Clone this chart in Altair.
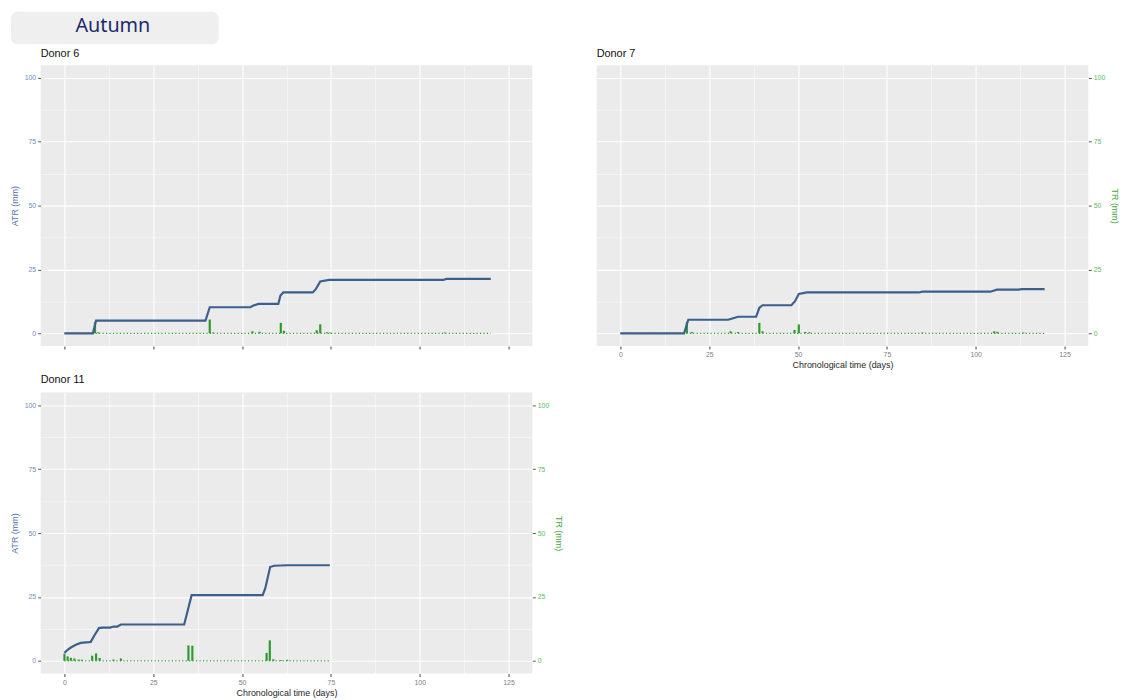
import altair as alt
import pandas as pd

# ---------------- data ----------------
# Donor 6
d6_days = [0, 8.0, 8.9, 39.7, 40.9, 52.3, 53.2, 54.6, 60.2, 60.8, 61.6, 69.9, 70.8, 72.0, 74.5, 106.6, 107.5, 120]
d6_atr = [0, 0, 5.0, 5.0, 10.2, 10.2, 10.9, 11.5, 11.5, 14.8, 16.0, 16.0, 17.4, 20.3, 20.9, 20.9, 21.3, 21.3]
d6_tr_days = [8.6, 9.5, 40.9, 41.8, 52.9, 54.9, 60.9, 61.8, 71.0, 72.0, 73.9, 74.8, 107.0]
d6_tr = [4.4, 0.4, 5.4, 0.3, 0.8, 0.6, 4.1, 1.0, 1.2, 3.5, 0.4, 0.3, 0.3]
d6_end = 120

# Donor 7
d7_days = [0, 17.9, 19.1, 30.3, 31.7, 33.1, 38.2, 39.1, 40.0, 48.1, 49.1, 50.2, 52.5, 84.0, 85.0, 104.1, 106.0, 112.0, 113.0, 119.4]
d7_atr = [0, 0, 5.3, 5.3, 5.9, 6.5, 6.5, 10.0, 11.0, 11.0, 12.5, 15.4, 16.0, 16.0, 16.3, 16.3, 17.1, 17.1, 17.3, 17.3]
d7_tr_days = [18.7, 20.1, 31.0, 33.1, 39.1, 40.0, 49.0, 50.2, 52.0, 53.2, 85.0, 105.2, 106.1, 113.4]
d7_tr = [4.5, 0.5, 0.8, 0.5, 4.1, 0.8, 1.3, 3.5, 0.5, 0.4, 0.3, 0.8, 0.6, 0.3]
d7_end = 119.4

# Donor 11
d11_days = [0, 0.9, 1.8, 3.2, 4.6, 6.9, 7.4, 8.5, 9.7, 10.6, 12.9, 13.8, 14.9, 15.9, 33.7, 35.8, 55.8, 56.5, 57.9, 59.0, 62.7, 74.7]
d11_atr = [3.1, 4.3, 5.2, 6.3, 7.0, 7.3, 7.4, 10.1, 12.8, 13.0, 13.0, 13.4, 13.4, 14.2, 14.2, 25.7, 25.7, 28.2, 36.7, 37.2, 37.4, 37.4]
d11_tr_days = [0, 0.9, 1.8, 2.8, 4.0, 4.9, 7.8, 8.9, 9.9, 13.8, 15.9, 34.9, 36.0, 56.9, 57.8, 58.8, 60.9, 62.7]
d11_tr = [2.8, 1.7, 1.15, 0.9, 0.5, 0.4, 2.0, 2.9, 1.1, 0.5, 0.9, 6.0, 5.9, 3.1, 8.0, 0.6, 0.3, 0.4]
d11_end = 74.7

x_ticks = [0, 12.5, 25, 37.5, 50, 62.5, 75, 87.5, 100, 112.5, 125]
y_ticks = [0, 12.5, 25, 37.5, 50, 62.5, 75, 87.5, 100]

season = "Autumn"
x_title = "Chronological time (days)"

# ---------------- styling ----------------
FONT = "Liberation Sans"
LINE_C = "#3C5F8E"
BAR_C = "#2E9A2E"
ATR_LABEL_C = "#6F8DBB"
ATR_TITLE_C = "#4F75AE"
TR_LABEL_C = "#5DBB5D"
TR_TITLE_C = "#45A845"
MAJOR = "datum.value % 25 === 0"

xs = alt.Scale(domain=[-6.7, 131.7], nice=False, zero=False, padding=0)
ys = alt.Scale(domain=[-5, 105], nice=False, zero=False, padding=0)


def grid_width():
    return {"condition": {"test": MAJOR, "value": 1.1}, "value": 0.5}


def tick_op():
    return {"condition": {"test": MAJOR, "value": 1}, "value": 0}


def x_axis(show_labels):
    kw = dict(values=x_ticks, labelExpr=f"{MAJOR} ? datum.label : ''", grid=True,
              gridColor="white", gridWidth=grid_width(), gridOpacity=1,
              domain=False, tickColor="#444", tickSize=3, tickOpacity=tick_op(),
              labelColor="#808080", labelFontSize=7, labelFont=FONT, labelPadding=2,
              labelFlush=False, labelOverlap=False)
    if show_labels:
        kw.update(labels=True, title=x_title, titleFontSize=9, titleFont=FONT,
                  titleColor="#262626", titleFontWeight="normal", titlePadding=3)
    else:
        kw.update(labels=False, title="")
    return alt.Axis(**kw)


def y_axis(side, title, label_c, title_c, grid):
    return alt.Axis(orient=side, values=y_ticks, labelExpr=f"{MAJOR} ? datum.label : ''",
                    grid=grid, gridColor="white", gridWidth=grid_width(), gridOpacity=1,
                    domain=False, tickColor="#555", tickSize=3, tickOpacity=tick_op(),
                    labelColor=label_c, labelFontSize=7, labelFont=FONT, labelPadding=2,
                    labelFlush=False, labelOverlap=False,
                    title=title, titleFontSize=9, titleFont=FONT, titleColor=title_c,
                    titleFontWeight="normal", titlePadding=5)


def panel(name, days, atr, tr_days, tr, end, left, right, xlabels, title_offset):
    xa = x_axis(xlabels)
    df_line = pd.DataFrame({"day": days, "atr": atr})
    df_bar = pd.DataFrame({"day": tr_days, "tr": tr})
    df_zero = pd.DataFrame({"day": [0, end], "tr": [0, 0]})

    if right:
        ya_r = y_axis("right", "TR (mm)", TR_LABEL_C, TR_TITLE_C, grid=not left)
    else:
        ya_r = None
    if left:
        ya_l = y_axis("left", "ATR (mm)", ATR_LABEL_C, ATR_TITLE_C, grid=True)
    else:
        ya_l = None

    zero = alt.Chart(df_zero).mark_line(color=BAR_C, strokeWidth=1.2, strokeDash=[1.2, 2.3]).encode(
        x=alt.X("day:Q", scale=xs, axis=xa),
        y=alt.Y("tr:Q", scale=ys, axis=ya_r),
    )
    bars = alt.Chart(df_bar).mark_bar(color=BAR_C, size=2.2).encode(
        x=alt.X("day:Q", scale=xs, axis=xa),
        y=alt.Y("tr:Q", scale=ys, axis=ya_r),
    )
    tr_layer = alt.layer(zero, bars)
    line = alt.Chart(df_line).mark_line(color=LINE_C, strokeWidth=2.2).encode(
        x=alt.X("day:Q", scale=xs, axis=xa),
        y=alt.Y("atr:Q", scale=ys, axis=ya_l),
    )
    return alt.layer(tr_layer, line).resolve_scale(y="independent").properties(
        width=497, height=284,
        title=alt.TitleParams(name, anchor="start", frame="group", fontSize=11,
                              fontWeight="normal", color="#111111", font=FONT,
                              offset=title_offset),
        view=alt.ViewBackground(fill="#EBEBEB", strokeWidth=0),
    )


d6 = panel("Donor 6", d6_days, d6_atr, d6_tr_days, d6_tr, d6_end, True, False, False, 6)
d7 = panel("Donor 7", d7_days, d7_atr, d7_tr_days, d7_tr, d7_end, False, True, True, 6)
d11 = panel("Donor 11", d11_days, d11_atr, d11_tr_days, d11_tr, d11_end, True, True, True, 8)

hdf = pd.DataFrame({"label": [season]})
box = alt.Chart(hdf).mark_rect(cornerRadius=7, color="#EFEFEF").encode(
    x=alt.value(-30), x2=alt.value(180), y=alt.value(0), y2=alt.value(33))
txt = alt.Chart(hdf).mark_text(fontSize=20, color="#1C2A6B", font="Noto Sans").encode(
    x=alt.value(73), y=alt.value(15), text="label:N")
header = alt.layer(box, txt).properties(
    width=150, height=33, view=alt.ViewBackground(fill="white", strokeWidth=0))

row1 = alt.hconcat(d6, d7, spacing=65)
chart = alt.vconcat(header, row1, d11, spacing=4).properties(
    padding={"left": 2, "top": 0, "right": 0, "bottom": 0})

chart.save("out.html", embed_options={"renderer": "svg", "actions": False})
